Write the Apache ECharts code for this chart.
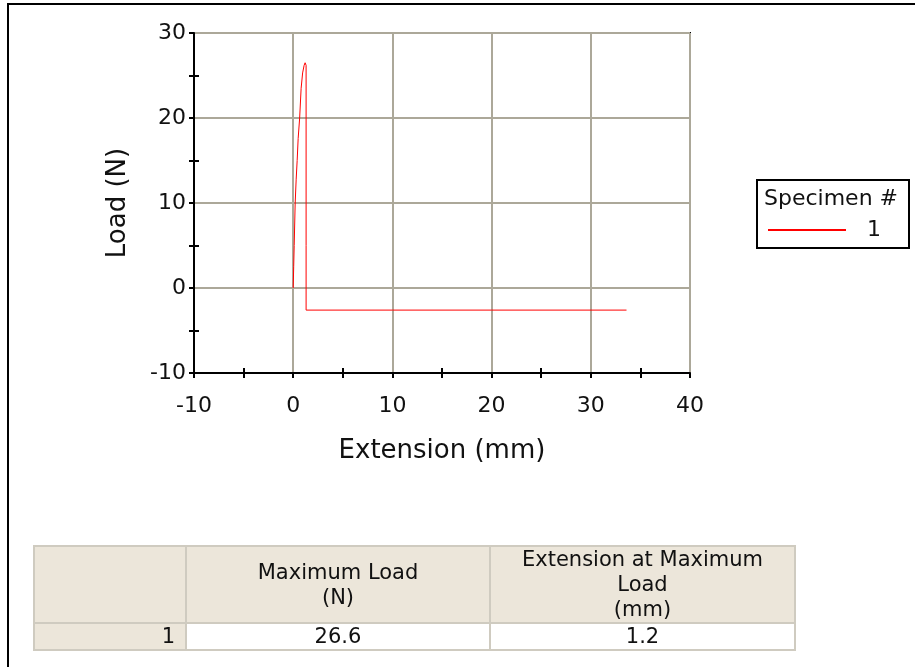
<!DOCTYPE html>
<html>
<head>
<meta charset="utf-8">
<script src="https://cdn.jsdelivr.net/npm/echarts@6/dist/echarts.min.js"></script>
<style>
  html, body { margin: 0; padding: 0; background: #fff; }
  #wrap { position: relative; width: 915px; height: 667px; overflow: hidden; font-family: "DejaVu Sans", Verdana, sans-serif; }
  #frame { position: absolute; left: 7px; top: 3px; right: -10px; bottom: -10px; border-top: 2px solid #000; border-left: 2px solid #000; }
  #myChart { position: absolute; left: 0; top: 0; width: 915px; height: 667px; }
  #resTable { position: absolute; left: 33px; top: 545px; border-collapse: collapse; font-size: 21px; color: #111; }
  #resTable td { border: 2px solid #cfcbc0; padding: 0; text-align: center; line-height: 25px; }
  #resTable .hd { background: #ece6da; height: 74px; }
  #resTable .row td { height: 23px; background: #fff; }
  #resTable .row td.idx { background: #ece6da; text-align: right; padding-right: 10px; }
</style>
</head>
<body>
<div id="wrap">
  <div id="frame"></div>
  <div id="myChart"></div>
  <table id="resTable"></table>
</div>
<script>
// curve of specimen 1 : [extension mm, load N]
const extension = [0, 0.05, 0.1, 0.2, 0.3, 0.4, 0.5, 0.65, 0.8, 0.95, 1.1, 1.2, 1.25, 1.3, 1.3, 1.3, 10, 20, 33.6];
const load = [0, 2.5, 5, 10, 12.8, 15, 17.6, 20, 23.5, 25.3, 26.2, 26.5, 26.6, 26.2, 5, -2.6, -2.6, -2.6, -2.6];
const specimens = ['1'];
const xTicks = { min: -10, max: 40, interval: 10 };
const yTicks = { min: -10, max: 30, interval: 10 };

// result table
const tableHeaders = ['', 'Maximum Load<br>(N)', 'Extension at Maximum<br>Load<br>(mm)'];
const maxLoad = ['26.6'];
const extAtMax = ['1.2'];

const colWidths = [152, 304, 305];
let html = '<tr>';
tableHeaders.forEach((h, i) => {
  html += '<td class="hd" style="width:' + (colWidths[i] - 2) + 'px">' + h + '</td>';
});
html += '</tr>';
for (let i = 0; i < specimens.length; i++) {
  html += '<tr class="row"><td class="idx">' + specimens[i] + '</td><td>' + maxLoad[i] + '</td><td>' + extAtMax[i] + '</td></tr>';
}
document.getElementById('resTable').innerHTML = html;

const font = '"DejaVu Sans", Verdana, sans-serif';
const txt = '#111';
const pts = extension.map((x, i) => [x, load[i]]);
const tickLine = { color: '#000', width: 2 };

// second axis pair only draws the minor ticks on the inner side
function innerAxis(t, pos) {
  return {
    type: 'value',
    position: pos,
    offset: 0,
    min: t.min,
    max: t.max,
    interval: t.interval,
    axisLine: { show: false, onZero: false },
    axisTick: { show: false, inside: true },
    minorTick: { show: true, splitNumber: 2, length: 5, lineStyle: tickLine },
    axisLabel: { show: false },
    splitLine: { show: false }
  };
}

const myChart = echarts.init(document.getElementById('myChart'));
myChart.setOption({
  animation: false,
  backgroundColor: 'transparent',
  grid: {
    left: 194,
    top: 33,
    right: 225,
    bottom: 294,
    show: true,
    borderColor: '#000',
    borderWidth: 2
  },
  xAxis: [{
    type: 'value',
    position: 'bottom',
    min: xTicks.min,
    max: xTicks.max,
    interval: xTicks.interval,
    name: 'Extension (mm)',
    nameLocation: 'middle',
    nameGap: 65,
    nameTextStyle: { fontFamily: font, fontSize: 26, color: txt },
    axisLine: { onZero: false, lineStyle: tickLine },
    axisTick: { show: true, length: 5, lineStyle: tickLine },
    minorTick: { show: true, splitNumber: 2, length: 5, lineStyle: tickLine },
    axisLabel: { fontFamily: font, fontSize: 22, color: txt, margin: 22 },
    splitLine: { show: true, lineStyle: { color: '#aca899', width: 2 } }
  }, innerAxis(xTicks, 'bottom')],
  yAxis: [{
    type: 'value',
    position: 'left',
    min: yTicks.min,
    max: yTicks.max,
    interval: yTicks.interval,
    name: 'Load (N)',
    nameLocation: 'middle',
    nameGap: 63,
    nameTextStyle: { fontFamily: font, fontSize: 26, color: txt },
    axisLine: { onZero: false, lineStyle: tickLine },
    axisTick: { show: true, length: 5, lineStyle: tickLine },
    minorTick: { show: true, splitNumber: 2, length: 5, lineStyle: tickLine },
    axisLabel: { fontFamily: font, fontSize: 22, color: txt, margin: 8 },
    splitLine: { show: true, lineStyle: { color: '#aca899', width: 2 } }
  }, innerAxis(yTicks, 'left')],
  legend: {
    data: specimens,
    left: 763,
    top: 214,
    icon: 'rect',
    itemWidth: 78,
    itemHeight: 2,
    textStyle: { fontFamily: font, fontSize: 22, color: txt, padding: [0, 0, 0, 16] }
  },
  graphic: [
    {
      type: 'rect',
      shape: { x: 757, y: 180, width: 152, height: 68 },
      style: { fill: 'none', stroke: '#000', lineWidth: 2 }
    },
    {
      type: 'text',
      x: 764,
      y: 188,
      style: { text: 'Specimen #', fontFamily: font, fontSize: 22, fill: txt }
    }
  ],
  series: [
    {
      name: specimens[0],
      type: 'line',
      data: pts,
      showSymbol: false,
      symbol: 'none',
      smooth: false,
      color: '#ff0000',
      lineStyle: { color: '#ff0000', width: 1 }
    }
  ]
});
</script>
</body>
</html>
